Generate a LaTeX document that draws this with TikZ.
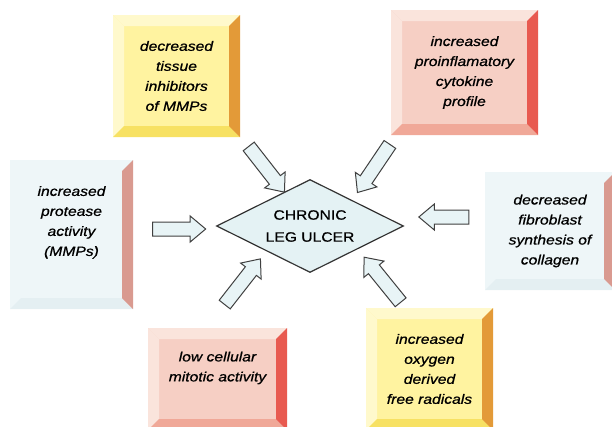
\documentclass[tikz,border=0pt]{standalone}
\usepackage{fontspec}
\setmainfont[FakeStretch=1.16, FakeBold=0.8]{Liberation Sans}
\usetikzlibrary{shapes.geometric,shapes.arrows}

\definecolor{yellowfill}{HTML}{FFF3A0}
\definecolor{yellowlight}{HTML}{FFF9CC}
\definecolor{yellowmid}{HTML}{F7E163}
\definecolor{yellowdark}{HTML}{E39A38}
\definecolor{pinkfill}{HTML}{F6CFC4}
\definecolor{pinklight}{HTML}{FAE4DC}
\definecolor{pinkmid}{HTML}{F0A898}
\definecolor{pinkdark}{HTML}{E85A50}
\definecolor{bluefill}{HTML}{EEF6F8}
\definecolor{bluemid}{HTML}{E4EFF2}
\definecolor{bluedark}{HTML}{D99A90}
\definecolor{ulcerfill}{HTML}{E4F2F4}
\definecolor{arrowfill}{HTML}{E8F4F6}

\begin{document}
\begin{tikzpicture}[x=1pt, y=-1pt, thick,
    slab/.style n args={4}{fill=#1, align=center, inner sep=0pt,
        font=\itshape\fontsize{13.5}{20}\selectfont,
        path picture={
            \coordinate (nw) at (path picture bounding box.north west);
            \coordinate (ne) at (path picture bounding box.north east);
            \coordinate (sw) at (path picture bounding box.south west);
            \coordinate (se) at (path picture bounding box.south east);
            \fill[#2] (nw) -- (sw) -- ([shift={(11pt,11pt)}]sw) -- ([shift={(11pt,-11pt)}]nw) -- cycle;
            \fill[#2] (nw) -- (ne) -- ([shift={(-11pt,-11pt)}]ne) -- ([shift={(11pt,-11pt)}]nw) -- cycle;
            \fill[#3] (sw) -- (se) -- ([shift={(-11pt,11pt)}]se) -- ([shift={(11pt,11pt)}]sw) -- cycle;
            \fill[#4] (ne) -- (se) -- ([shift={(-11pt,11pt)}]se) -- ([shift={(-11pt,-11pt)}]ne) -- cycle;
        }},
    yellowslab/.style={slab={yellowfill}{yellowlight}{yellowmid}{yellowdark}},
    pinkslab/.style={slab={pinkfill}{pinklight}{pinkmid}{pinkdark}},
    blueslab/.style={slab={bluefill}{bluefill}{bluemid}{bluedark}},
    blockarrow/.style={single arrow, draw=black!75, fill=arrowfill, line width=1pt,
        minimum height=58pt, minimum width=25pt, single arrow head extend=6pt,
        single arrow tip angle=80, inner sep=6.5pt}]

\useasboundingbox (0,0) rectangle (612,426);
\clip (0,0) rectangle (612,426);

% Nodes
\node (ulcer) [diamond, aspect=2, draw=black!80, fill=ulcerfill, line width=1.2pt,
    minimum width=187pt, minimum height=93pt, inner sep=0pt, align=center,
    font=\fontsize{13.5}{22}\selectfont] at (310,226) {CHRONIC\\LEG ULCER};

\node (tissue) [yellowslab, minimum width=127pt, minimum height=122pt] at (176.5,76)
    {decreased\\tissue\\inhibitors\\of MMPs};
\node (cytokine) [pinkslab, minimum width=147pt, minimum height=125pt] at (464.5,72.5)
    {increased\\proinflamatory\\cytokine\\profile};
\node (protease) [blueslab, minimum width=123pt, minimum height=149pt, text depth=27pt] at (71.5,234.5)
    {increased\\protease\\activity\\(MMPs)};
\node (fibro) [blueslab, minimum width=130pt, minimum height=118pt] at (550,231)
    {decreased\\fibroblast\\synthesis of\\collagen};
\node (mitotic) [pinkslab, minimum width=139pt, minimum height=102pt, text depth=25pt] at (217.5,379)
    {low cellular\\mitotic activity};
\node (radicals) [yellowslab, minimum width=127pt, minimum height=122pt] at (429.5,369)
    {increased\\oxygen\\derived\\free radicals};

% Arrows
\node (tissue-arrow) [blockarrow, rotate=-52] at (264,166) {};
\node (cytokine-arrow) [blockarrow, rotate=-124] at (376,165) {};
\node (protease-arrow) [blockarrow, minimum height=53pt] at (175,229) {};
\node (fibro-arrow) [blockarrow, minimum height=50pt, rotate=180] at (448,217) {};
\node (mitotic-arrow) [blockarrow, rotate=52] at (240,285) {};
\node (radicals-arrow) [blockarrow, rotate=129] at (385,283) {};

\end{tikzpicture}
\end{document}
